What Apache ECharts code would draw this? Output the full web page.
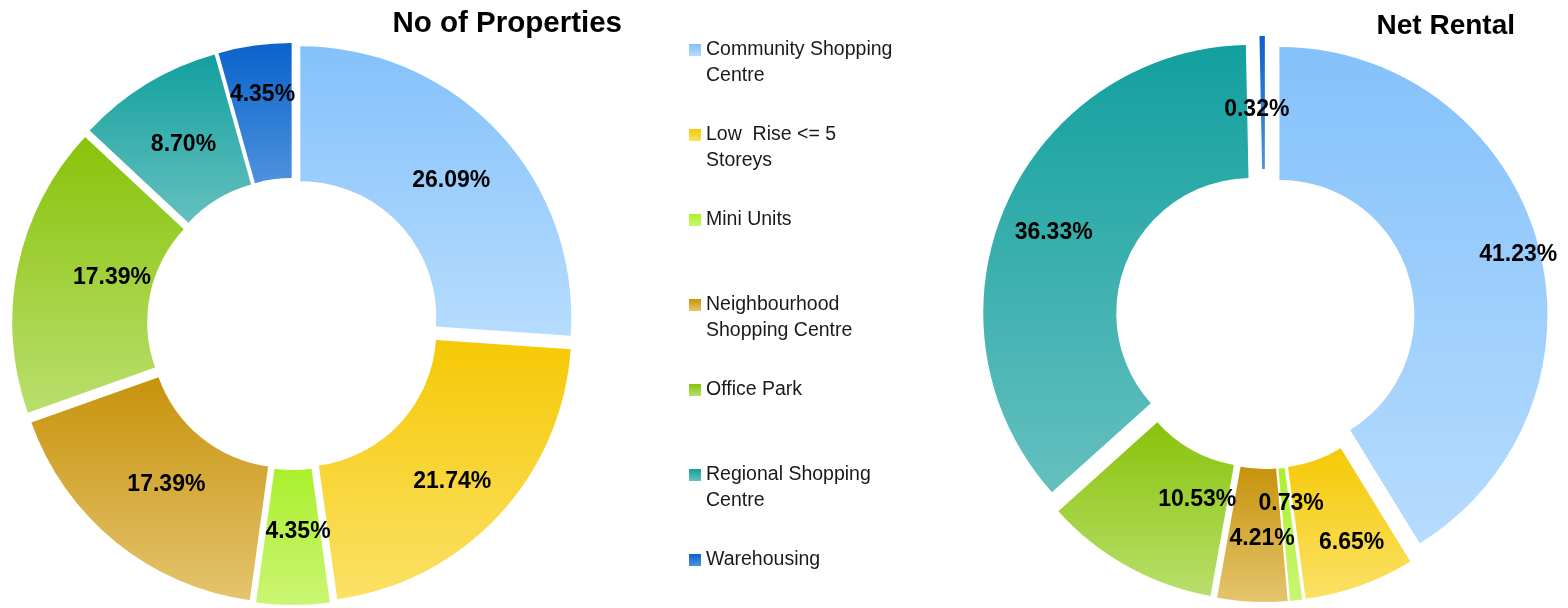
<!DOCTYPE html>
<html>
<head>
<meta charset="utf-8">
<title>No of Properties / Net Rental</title>
<script src="https://cdn.jsdelivr.net/npm/echarts@6/dist/echarts.min.js"></script>
<style>
  html, body { margin: 0; padding: 0; background: #fff; }
  #chart { width: 1568px; height: 608px; }
</style>
</head>
<body>
<div id="chart"></div>
<script>
"use strict";

/* ---------- 数据 ---------- */
const categories = [
  "Community Shopping\nCentre",
  "Low  Rise <= 5\nStoreys",
  "Mini Units",
  "Neighbourhood\nShopping Centre",
  "Office Park",
  "Regional Shopping\nCentre",
  "Warehousing"
];
const propertyShare = [26.09, 21.74, 4.35, 17.39, 17.39, 8.70, 4.35];
const rentalShare   = [41.23, 6.65, 0.73, 4.21, 10.53, 36.33, 0.32];

// 渐变色：上深下浅
const topColors    = ["#84c1fa", "#f5c905", "#aaf02c", "#c8930c", "#88c30a", "#12a09e", "#0a62cc"];
const bottomColors = ["#b6dcfe", "#fbe166", "#cbf574", "#e4c46e", "#b9df6c", "#65c0bf", "#4d92dd"];

// 标签微调 [dx, dy]（Excel 的标签并不正好在扇区中点）
const propertyLabelNudge = [[0, 4], [1, 10], [5, -9], [10, -7], [31, -2], [3, 6], [-1, -15]];
const rentalLabelNudge   = [[42, -5], [13, 17], [2, -34], [7, 0], [39, -11], [-10, 1], [-6, 10]];

const FONT = "'Liberation Sans', Arial, sans-serif";

function grad(i) {
  return {
    type: "linear", x: 0, y: 0, x2: 0, y2: 1,
    colorStops: [{ offset: 0, color: topColors[i] }, { offset: 1, color: bottomColors[i] }]
  };
}

function pieData(values) {
  return values.map((v, i) => ({
    name: categories[i],
    value: v,
    selected: true,
    itemStyle: { color: grad(i) }
  }));
}

function donut(values, center, radius, offset, nudge) {
  return {
    type: "pie",
    center: center,
    radius: radius,
    startAngle: 90,
    clockwise: true,
    selectedMode: "multiple",
    selectedOffset: offset,
    avoidLabelOverlap: false,
    itemStyle: { borderWidth: 0 },
    label: {
      show: true,
      position: "inside",
      formatter: p => p.value.toFixed(2) + "%",
      color: "#000",
      fontFamily: FONT,
      fontWeight: "bold",
      fontSize: 23
    },
    labelLine: { show: false },
    labelLayout: p => ({ dx: nudge[p.dataIndex][0], dy: nudge[p.dataIndex][1], hideOverlap: false }),
    emphasis: { disabled: true },
    data: pieData(values)
  };
}

/* ---------- 初始化 ---------- */
const chart = echarts.init(document.getElementById("chart"), null, { renderer: "canvas" });

chart.setOption({
  animation: false,
  backgroundColor: "#fff",
  title: [
    { text: "No of Properties", right: 946, top: 9, padding: 0,
      textStyle: { fontFamily: FONT, fontWeight: "bold", fontSize: 29.5, color: "#000" } },
    { text: "Net Rental", right: 53, top: 12, padding: 0,
      textStyle: { fontFamily: FONT, fontWeight: "bold", fontSize: 28, color: "#000" } }
  ],
  legend: {
    orient: "vertical",
    left: 684,
    top: 6,
    itemWidth: 12,
    itemHeight: 12,
    itemGap: 7,
    icon: "rect",
    selectedMode: false,
    data: categories,
    formatter: n => "\n" + n + (n.indexOf("\n") < 0 ? "\n" : ""),
    textStyle: { fontFamily: FONT, fontSize: 19.5, color: "#1a1a1a", lineHeight: 26 }
  },
  series: [
    donut(propertyShare, [293, 324], [136, 271], 10, propertyLabelNudge),
    donut(rentalShare, [1265, 319], [135, 268], 15, rentalLabelNudge)
  ]
});
</script>
</body>
</html>
